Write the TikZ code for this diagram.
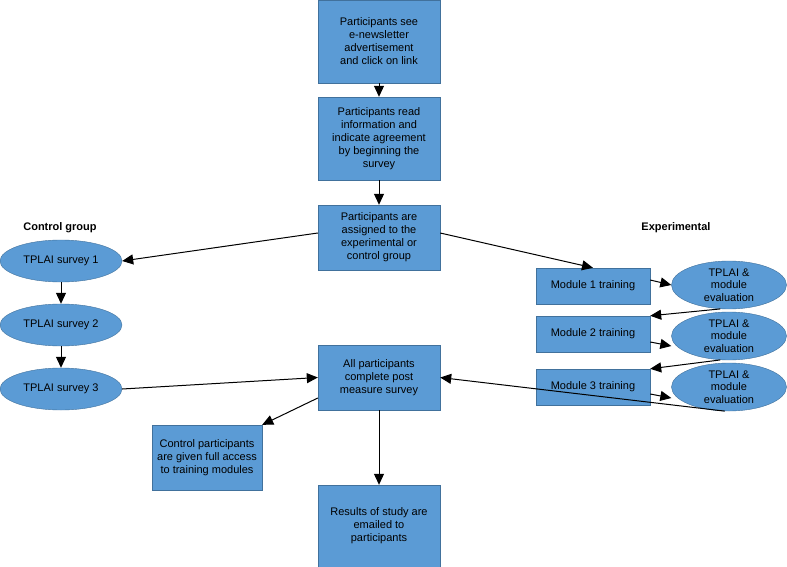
\documentclass[tikz,border=0pt]{standalone}
\usepackage{fontspec}
\setmainfont{Liberation Sans}
\usetikzlibrary{shapes.geometric,arrows.meta}
\definecolor{fillb}{HTML}{5B9BD5}
\definecolor{drawb}{HTML}{41719C}
\begin{document}
\begin{tikzpicture}[x=1pt,y=-1pt,
  box/.style={draw=drawb,fill=fillb,align=center,font=\fontsize{11}{13}\selectfont,inner sep=1pt},
  ell/.style={ellipse,draw=drawb,fill=fillb,align=center,font=\fontsize{11}{12.5}\selectfont,inner sep=0pt},
  arr/.style={-{Triangle[length=11pt,width=10pt]},line width=1pt}]
\useasboundingbox (0,0) rectangle (787,567);
\node[box,minimum width=122,minimum height=83] (b1) at (379,41.5) {Participants see\\e-newsletter\\advertisement\\and click on link};
\node[box,minimum width=122,minimum height=83] (b2) at (379,138.5) {Participants read\\information and\\indicate agreement\\by beginning the\\survey};
\node[box,minimum width=122,minimum height=65] (b3) at (379,237.5) {Participants are\\assigned to the\\experimental or\\control group};
\node[box,minimum width=122,minimum height=65] (b4) at (379,377.5) {All participants\\complete post\\measure survey};
\node[box,minimum width=110,minimum height=65] (b5) at (207,457.5) {Control participants\\are given full access\\to training modules};
\node[box,minimum width=122,minimum height=82] (b6) at (379,526) {Results of study are\\emailed to\\participants};
\node[font=\bfseries\fontsize{11}{12}\selectfont] (lc) at (60,228) {Control group};
\node[font=\bfseries\fontsize{11}{12}\selectfont] (le) at (676,228) {Experimental};
\node[ell,minimum width=122,minimum height=42] (s1) at (61,261) {TPLAI survey 1};
\node[ell,minimum width=122,minimum height=42] (s2) at (61,325) {TPLAI survey 2};
\node[ell,minimum width=122,minimum height=42] (s3) at (61,389) {TPLAI survey 3};
\node[box,minimum width=114,minimum height=36] (m1) at (593,286) {Module 1 training};
\node[box,minimum width=114,minimum height=36] (m2) at (593,334) {Module 2 training};
\node[box,minimum width=114,minimum height=36] (m3) at (593,387) {Module 3 training};
\node[ell,minimum width=115,minimum height=48] (e1) at (729,285) {TPLAI \&\\module\\evaluation};
\node[ell,minimum width=115,minimum height=48] (e2) at (729,336) {TPLAI \&\\module\\evaluation};
\node[ell,minimum width=115,minimum height=48] (e3) at (729,387) {TPLAI \&\\module\\evaluation};
\draw[arr] (b1) -- (b2);
\draw[arr] (b2) -- (b3);
\draw[arr] (b3.west |- 0,233) -- (s1.east);
\draw[arr] (b3.east |- 0,233) -- (m1.north);
\draw[arr] (s1) -- (s2);
\draw[arr] (s2) -- (s3);
\draw[arr] (m1.east |- 0,280) -- (e1.west |- 0,285);
\draw[arr] (e1.250) -- (m2.north east);
\draw[arr] (m2.east |- 0,342) -- (e2.west |- 0,346);
\draw[arr] (e2.250) -- (m3.north east);
\draw[arr] (m3.east |- 0,394) -- (e3.west |- 0,398);
\draw[arr] (e3.260) -- (b4.east);
\draw[arr] (s3.east) -- (b4.west);
\draw[arr] (b4.west |- 0,398) -- (b5.north east);
\draw[arr] (b4) -- (b6);
\end{tikzpicture}
\end{document}
